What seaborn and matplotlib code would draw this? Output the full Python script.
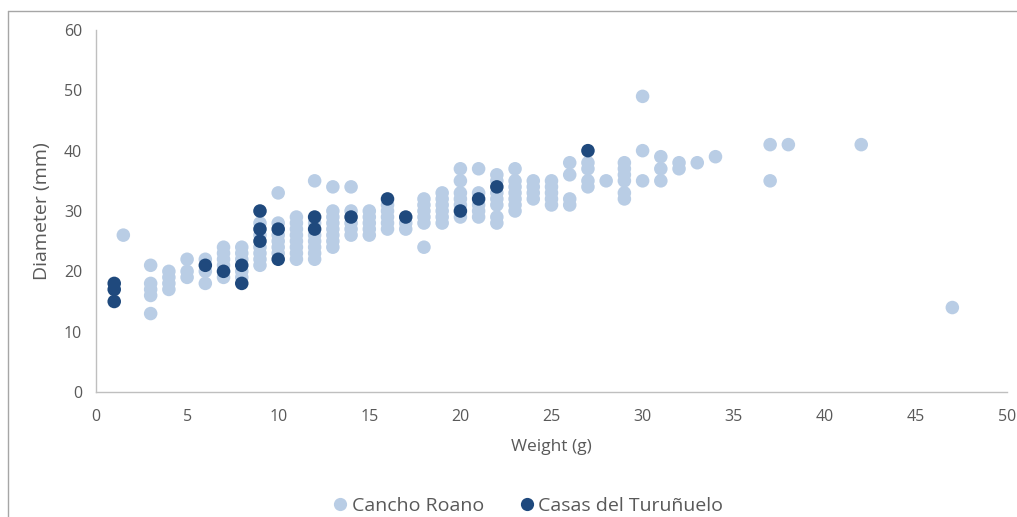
import numpy as np
import pandas as pd
import matplotlib
matplotlib.use("Agg")
import matplotlib.pyplot as plt
from matplotlib.lines import Line2D
import seaborn as sns

# Cancho Roano: weight -> list of diameters
cancho_columns = {
    1.5: [26],
    3: [13, 16, 17, 18, 21],
    4: [17, 18, 19, 20],
    5: [19, 20, 22],
    6: [18, 20, 22],
    7: [19, 20, 21, 22, 23, 24],
    8: [19, 20, 22, 23, 24],
    9: [21, 22, 23, 24, 26, 28],
    10: [23, 24, 25, 26, 28, 33],
    11: [22, 23, 24, 25, 26, 27, 28, 29],
    12: [22, 23, 24, 25, 26, 28, 35],
    13: [24, 25, 26, 27, 28, 29, 30, 34],
    14: [26, 27, 28, 30, 34],
    15: [26, 27, 28, 29, 30],
    16: [27, 28, 29, 30, 31],
    17: [27, 28],
    18: [24, 28, 29, 30, 31, 32],
    19: [28, 29, 30, 31, 32, 33],
    20: [29, 31, 32, 33, 35, 37],
    21: [29, 30, 31, 33, 37],
    22: [28, 29, 31, 32, 33, 35, 36],
    23: [30, 31, 32, 33, 34, 35, 37],
    24: [32, 33, 34, 35],
    25: [31, 32, 33, 34, 35],
    26: [31, 32, 36, 38],
    27: [34, 35, 37, 38],
    28: [35],
    29: [32, 33, 35, 36, 37, 38],
    30: [35, 40, 49],
    31: [35, 37, 39],
    32: [37, 38],
    33: [38],
    34: [39],
    37: [35, 41],
    38: [41],
    42: [41],
    47: [14],
}

casas_weight = [1, 1, 1, 6, 7, 8, 8, 9, 9, 9, 10, 10, 12, 12, 14, 16, 17, 20, 21, 22, 27]
casas_diameter = [15, 17, 18, 21, 20, 18, 21, 25, 27, 30, 22, 27, 27, 29, 29, 32, 29, 30, 32, 34, 40]

series_names = ["Cancho Roano", "Casas del Turuñuelo"]
series_colors = ["#b9cde5", "#1f497d"]
x_ticks = [0, 5, 10, 15, 20, 25, 30, 35, 40, 45, 50]
y_ticks = [0, 10, 20, 30, 40, 50, 60]

cr_w, cr_d = [], []
for w, ds in cancho_columns.items():
    for d in ds:
        cr_w.append(w)
        cr_d.append(d)

df = pd.concat([
    pd.DataFrame({"Weight": cr_w, "Diameter": cr_d, "Site": series_names[0]}),
    pd.DataFrame({"Weight": casas_weight, "Diameter": casas_diameter, "Site": series_names[1]}),
], ignore_index=True)

sns.set_theme(style="white")
plt.rcParams["font.family"] = ["Open Sans", "DejaVu Sans"]

fig = plt.figure(figsize=(10.17, 5.17), dpi=100)
ax = fig.add_axes([96 / 1017, 1 - 392 / 517, (1007 - 96) / 1017, (392 - 30) / 517])

sns.scatterplot(data=df, x="Weight", y="Diameter", hue="Site",
                palette=dict(zip(series_names, series_colors)),
                s=95, linewidth=0, ax=ax, legend=False)

ax.set_xlim(0, 50)
ax.set_ylim(0, 60)
ax.set_xticks(x_ticks)
ax.set_yticks(y_ticks)
text_color = "#595959"
ax.tick_params(axis="x", length=0, labelsize=11.5, labelcolor=text_color, pad=12)
ax.tick_params(axis="y", length=0, labelsize=11.5, labelcolor=text_color, pad=10)
ax.set_xlabel("Weight (g)", fontsize=12.5, color=text_color, labelpad=10)
ax.set_ylabel("Diameter (mm)", fontsize=14, color=text_color, labelpad=9)
for side in ["top", "right"]:
    ax.spines[side].set_visible(False)
for side in ["left", "bottom"]:
    ax.spines[side].set_color("#bfbfbf")
    ax.spines[side].set_linewidth(1)

handles = [Line2D([0], [0], marker="o", linestyle="", markersize=9.5,
                  markerfacecolor=c, markeredgewidth=0) for c in series_colors]
fig.legend(handles, series_names, loc="lower center", bbox_to_anchor=(0.515, -0.03),
           ncol=2, frameon=False, fontsize=14, handletextpad=-0.2, handlelength=1.6,
           columnspacing=1.4, labelcolor=text_color)

# outer chart frame (top and left edges visible)
fig.add_artist(Line2D([8 / 1017, 1.0], [1 - 11 / 517, 1 - 11 / 517], color="#a6a6a6", linewidth=1,
                      transform=fig.transFigure))
fig.add_artist(Line2D([8 / 1017, 8 / 1017], [0.0, 1 - 11 / 517], color="#a6a6a6", linewidth=1,
                      transform=fig.transFigure))

fig.savefig("out.png", dpi=100)
